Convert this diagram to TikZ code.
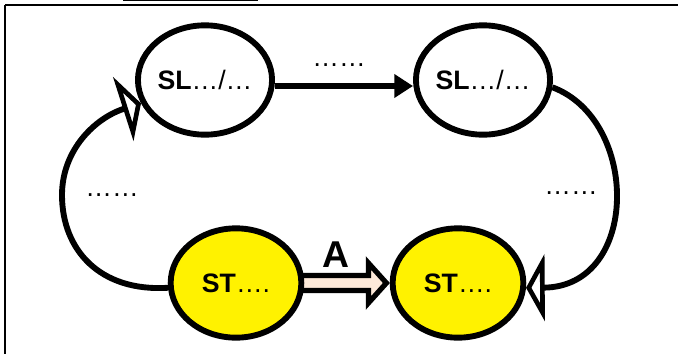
\documentclass[tikz,border=0pt]{standalone}
\usepackage{fontspec}
\setmainfont{Liberation Sans}
\usetikzlibrary{positioning,shapes,arrows.meta,calc}
\pgfdeclarelayer{l0}
\pgfsetlayers{l0,main}
\definecolor{peach}{RGB}{253,233,217}
\tikzstyle{state} = [ellipse, draw, line width=4.4pt, minimum width=98pt, minimum height=82pt, inner sep=0pt, text centered, font=\fontsize{20}{24}\selectfont]
\tikzstyle{slot} = [state, fill=white]
\tikzstyle{goal} = [state, fill=yellow]
\tikzstyle{dots} = [font=\fontsize{20}{24}\selectfont, inner sep=0pt, anchor=base]
\tikzstyle{line} = [draw, line width=5pt, -{Triangle[length=14pt,width=17pt]}]
\tikzstyle{back} = [draw, line width=4.4pt, -{Triangle[open,length=14pt,width=50pt]}]
\tikzstyle{fat} = [draw, fill=peach, line width=3.9pt, line join=miter]

\begin{document}
\begin{tikzpicture}[x=0.75pt, y=-0.75pt, node distance=208.5pt]
\useasboundingbox (0,0) rectangle (678,354);
% frame
\draw[line width=1.5pt] (5,5) -- (678,5);
\draw[line width=2.2pt] (5,5) -- (5,354);
\draw[line width=1.2pt] (123,0.6) -- (258,0.6);
% states
\node [slot] (sll) at (205,80) {\textbf{SL}…/…};
\node [slot, right of=sll] (slr) {\textbf{SL}…/…};
\node [goal] (stl) at (236,283) {\textbf{ST}….};
\node [goal, right of=stl, node distance=166.5pt] (str) {\textbf{ST}….};
% labels
\node [dots] (dtop) at (339,66) {……};
\node [dots] (dleft) at (112,196) {……};
\node [dots] (dright) at (571,194) {……};
\node [font=\fontsize{28}{32}\selectfont\bfseries, inner sep=0pt, anchor=base] (lbla) at (335.5,267) {A};
% transitions
\path [line] ([yshift=-4.5pt]sll.east) -- ([yshift=-4.5pt]slr.west);
\path [back] (slr.-6) .. controls (640,120) and (640,287) .. (str.-4);
\path [back] (stl.184) .. controls (100,292) and (62,250) .. (62,195) .. controls (62,150) and (95,118) .. (sll.200);
\begin{pgfonlayer}{l0}
  \coordinate (ab) at ([xshift=-3pt]stl.east);
  \coordinate (at) at ([xshift=-2.5pt]str.west);
  \draw [fat] ($(ab)+(0,-7.5)$) -- ($(at)+(-18,-7.5)$) -- ($(at)+(-18,-20)$) -- (at)
    -- ($(at)+(-18,20)$) -- ($(at)+(-18,7.5)$) -- ($(ab)+(0,7.5)$) -- cycle;
\end{pgfonlayer}
\end{tikzpicture}
\end{document}
